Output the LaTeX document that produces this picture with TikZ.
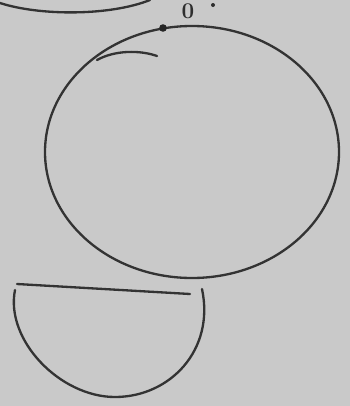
\documentclass[tikz,border=0pt]{standalone}
\usepackage{fontspec}
\usepackage{tikz}
\begin{document}
\begin{tikzpicture}[
x=0.5mm,y=-0.5mm,
pen/.style={draw=black!80,line width=3.3pt,line cap=round},
every node/.style={
text=black!82,
inner sep=0pt,
font=\fontsize{32}{34}\selectfont\bfseries
}
]

\fill[black!21] (0,0) rectangle (350,406);
\useasboundingbox (0,0) rectangle (350,406);

\draw[pen] (0,3) .. controls (40,16) and (110,16) .. (150,0);

\draw[pen] (192,152) ellipse [x radius=73.5mm,y radius=63mm];

\draw[pen] (97,60) .. controls (115,50) and (140,50) .. (157,56);

\fill[black!85] (163,28) circle [radius=1.9mm];
\coordinate (dot) at (163,28);

\node (O) at (188,11) {0};
\fill[black!82] (213,5) circle [radius=1mm];

\draw[pen] (17,284) -- (190,294);
\draw[pen] (15,290) .. controls (5,340) and (60,397) .. (115,397)
.. controls (170,397) and (215,350) .. (202,289);

\end{tikzpicture}
\end{document}
